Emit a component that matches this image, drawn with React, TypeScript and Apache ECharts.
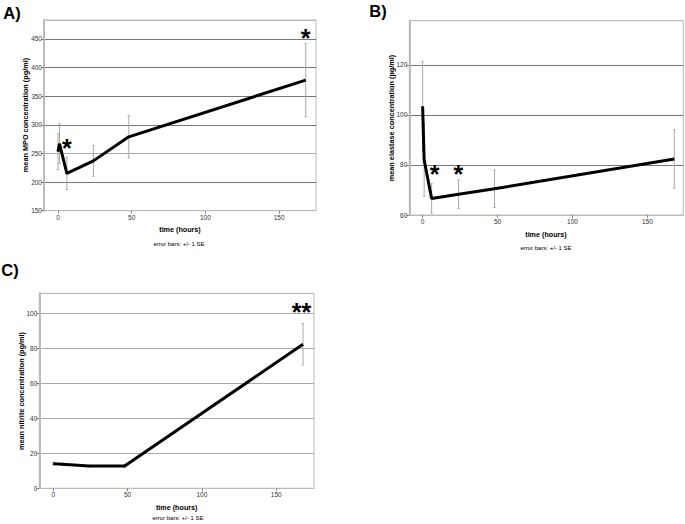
import React, { useEffect, useRef } from "react";
import * as echarts from "echarts";

const times = [0, 1, 6, 24, 48, 168];
const mpoMean = [253, 267, 215, 237, 279, 378];
const mpoSE = [31, 35, 28, 27, 37, 64];
const elaMean = [103.5, 82, 66.6, 68.3, 70.5, 82.4];
const elaSE = [18, 14.5, 5.9, 5.7, 7.5, 11.7];
const nitMean = [14.1, 14.0, 13.8, 12.7, 12.7, 82.3];
const nitSE = [0.8, 0.7, 0.6, 0.5, 0.8, 11.8];

const xTicks = [0, 50, 100, 150];
const starsA = [[6, 268, "*"], [168, 460, "*"]];
const starsB = [[8, 78.5, "*"], [23.8, 78.5, "*"]];
const starsC = [[167, 103.5, "**"]];

const FONT = "Liberation Sans, Arial, sans-serif";

function errData(mean: number[], se: number[]) {
  return times.map((t, i) => [t, mean[i] - se[i], mean[i] + se[i]]);
}

function errSeries(idx: number, mean: number[], se: number[]) {
  return {
    type: "custom",
    xAxisIndex: idx,
    yAxisIndex: idx,
    z: 1,
    encode: { x: 0, y: [1, 2] },
    data: errData(mean, se),
    renderItem: (params: any, api: any) => {
      const x = api.value(0);
      const lo = api.coord([x, api.value(1)]);
      const hi = api.coord([x, api.value(2)]);
      const c = 1.2;
      const st = { stroke: "#aaa", lineWidth: 1 };
      return {
        type: "group",
        children: [
          { type: "line", shape: { x1: lo[0], y1: lo[1], x2: hi[0], y2: hi[1] }, style: st },
          { type: "line", shape: { x1: lo[0] - c, y1: lo[1], x2: lo[0] + c, y2: lo[1] }, style: st },
          { type: "line", shape: { x1: hi[0] - c, y1: hi[1], x2: hi[0] + c, y2: hi[1] }, style: st },
        ],
      };
    },
  };
}

function lineSeries(idx: number, mean: number[]) {
  return {
    type: "line",
    xAxisIndex: idx,
    yAxisIndex: idx,
    z: 3,
    showSymbol: false,
    symbol: "none",
    lineStyle: { color: "#000", width: 3 },
    data: times.map((t, i) => [t, mean[i]]),
  };
}

function starSeries(idx: number, stars: any[]) {
  return {
    type: "custom",
    xAxisIndex: idx,
    yAxisIndex: idx,
    z: 4,
    encode: { x: 0, y: 1 },
    data: stars.map((s) => [s[0], s[1], s[2]]),
    renderItem: (params: any, api: any) => {
      const p = api.coord([api.value(0), api.value(1)]);
      const s = stars[params.dataIndex][2];
      return {
        type: "text",
        x: p[0],
        y: p[1] + 5,
        style: {
          text: s,
          fontSize: 25,
          fontWeight: "bold",
          fontFamily: FONT,
          fill: "#000",
          align: "center",
          verticalAlign: "middle",
        },
      };
    },
  };
}

function xAxis(idx: number, min: number, max: number) {
  return {
    type: "value",
    gridIndex: idx,
    min,
    max,
    axisLine: { show: true, onZero: false, lineStyle: { color: "#bbb", width: 1 } },
    axisTick: { show: true, length: 3, lineStyle: { color: "#888" }, customValues: xTicks },
    axisLabel: { fontSize: 6.5, color: "#333", margin: 3, fontFamily: FONT, customValues: xTicks },
    splitLine: { show: false },
  };
}

function yAxis(idx: number, min: number, max: number, interval: number, colors: string[]) {
  return {
    type: "value",
    gridIndex: idx,
    min,
    max,
    interval,
    axisLine: { show: true, onZero: false, lineStyle: { color: "#bbb", width: 2 } },
    axisTick: { show: true, length: 3, lineStyle: { color: "#888" } },
    axisLabel: { fontSize: 6.5, color: "#333", margin: 2, fontFamily: FONT, showMaxLabel: false },
    splitLine: { show: true, lineStyle: { color: colors, width: 1 } },
  };
}

function txt(x: number, y: number, text: string, size: number, bold: boolean, rot = 0) {
  return {
    type: "text",
    x,
    y,
    rotation: rot,
    style: {
      text,
      fontSize: size,
      fontWeight: bold ? "bold" : "normal",
      fontFamily: FONT,
      fill: "#000",
      align: "center",
      verticalAlign: "middle",
    },
  };
}

export default function App() {
  const ref = useRef<HTMLDivElement>(null);
  useEffect(() => {
    const chart = echarts.init(ref.current!, null, { renderer: "svg" });
    chart.setOption({
      animation: false,
      backgroundColor: "#fff",
      grid: [
        { left: 44, top: 20, width: 272, height: 190.7, show: true, borderColor: "#bbb", borderWidth: 1 },
        { left: 409.3, top: 20.7, width: 274, height: 194.3, show: true, borderColor: "#bbb", borderWidth: 1 },
        { left: 39.3, top: 293.3, width: 274.7, height: 195, show: true, borderColor: "#bbb", borderWidth: 1 },
      ],
      xAxis: [xAxis(0, -9.5, 175), xAxis(1, -8.9, 174), xAxis(2, -9.4, 175.4)],
      yAxis: [
        yAxis(0, 150, 483, 50, ["#bbb", "#777", "#aaa", "#777", "#777", "#777", "#777", "#bbb"]),
        yAxis(1, 60, 137.7, 20, ["#bbb", "#777", "#777", "#777", "#bbb"]),
        yAxis(2, 0, 111.4, 20, ["#bbb", "#aaa", "#aaa", "#aaa", "#aaa", "#aaa", "#bbb"]),
      ],
      series: [
        errSeries(0, mpoMean, mpoSE),
        lineSeries(0, mpoMean),
        starSeries(0, starsA),
        errSeries(1, elaMean, elaSE),
        lineSeries(1, elaMean),
        starSeries(1, starsB),
        errSeries(2, nitMean, nitSE),
        lineSeries(2, nitMean),
        starSeries(2, starsC),
      ],
      graphic: [
        txt(12, 13, "A)", 16.5, true),
        txt(378, 11, "B)", 16.5, true),
        txt(10, 270, "C)", 16.5, true),
        txt(25, 115, "mean MPO concentration (pg/ml)", 7.3, true, Math.PI / 2),
        txt(391.7, 118, "mean elastase concentration (pg/ml)", 7.3, true, Math.PI / 2),
        txt(21.7, 391, "mean nitrite concentration (pg/ml)", 7.3, true, Math.PI / 2),
        txt(180, 229, "time (hours)", 7.2, true),
        txt(179, 243.5, "error bars: +/- 1 SE", 6, false),
        txt(546, 234, "time (hours)", 7.2, true),
        txt(546, 248, "error bars: +/- 1 SE", 6, false),
        txt(176.7, 507, "time (hours)", 7.2, true),
        txt(178, 517.7, "error bars: +/- 1 SE", 6, false),
      ],
    });
    return () => chart.dispose();
  }, []);
  return (
    <div
      ref={ref}
      style={{ position: "fixed", left: 0, top: 0, width: 685, height: 524, background: "#fff" }}
    />
  );
}
